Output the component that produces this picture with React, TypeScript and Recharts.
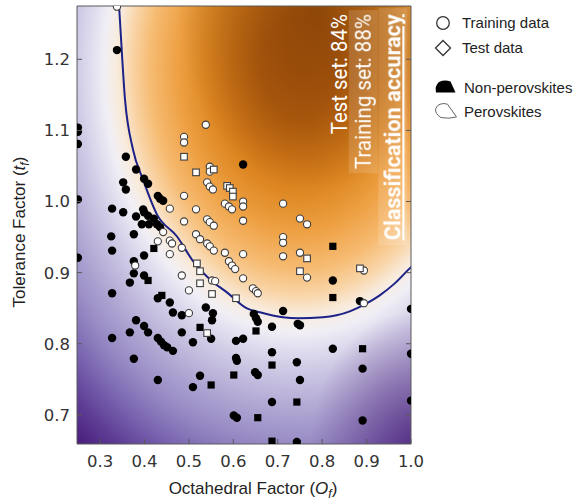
import React from 'react';
import {
  ComposedChart,
  Scatter,
  Line,
  XAxis,
  YAxis,
  ReferenceArea,
  ReferenceDot,
  Legend,
} from 'recharts';

type Pair = [number, number];
type Pt = { of: number; tf: number };

// Axis set-up
const xDomain: [number, number] = [0.248, 1.0];
const yDomain: [number, number] = [0.659, 1.275];
const xTicks = [0.3, 0.4, 0.5, 0.6, 0.7, 0.8, 0.9, 1.0];
const yTicks = [0.7, 0.8, 0.9, 1.0, 1.1, 1.2];

// [octahedral factor, tolerance factor]
const trainNonPerovskites: Pair[] = [
  [0.25, 1.104], [0.25, 1.098], [0.25, 1.081], [0.25, 1.003], [0.25, 0.921],
  [0.338, 1.213],
  [0.358, 1.063], [0.381, 1.045], [0.399, 1.032], [0.408, 1.025], [0.352, 1.027], [0.358, 1.017],
  [0.43, 1.008], [0.435, 1.004], [0.442, 1.001],
  [0.327, 0.99], [0.352, 0.985], [0.397, 0.989], [0.399, 0.985], [0.381, 0.979], [0.408, 0.98], [0.421, 0.976],
  [0.394, 0.968], [0.41, 0.968], [0.428, 0.968], [0.435, 0.964],
  [0.325, 0.951], [0.376, 0.954], [0.327, 0.931], [0.399, 0.924], [0.376, 0.916], [0.376, 0.899],
  [0.399, 0.896], [0.367, 0.886], [0.327, 0.871],
  [0.43, 0.864], [0.457, 0.858], [0.464, 0.844], [0.484, 0.84],
  [0.538, 0.851], [0.554, 0.843], [0.552, 0.833],
  [0.381, 0.833], [0.399, 0.825], [0.408, 0.816], [0.367, 0.816], [0.327, 0.808],
  [0.43, 0.808], [0.437, 0.803], [0.444, 0.798], [0.451, 0.795], [0.464, 0.79],
  [0.484, 0.816], [0.509, 0.802], [0.55, 0.807],
  [0.606, 0.804], [0.622, 0.807], [0.606, 0.78], [0.608, 0.776],
  [0.376, 0.779], [0.43, 0.749], [0.509, 0.739], [0.525, 0.755], [0.601, 0.699], [0.608, 0.696],
  [0.622, 1.052],
  [0.646, 0.842], [0.651, 0.836], [0.655, 0.831], [0.687, 0.824], [0.712, 0.846], [0.745, 0.828], [0.75, 0.826],
  [0.687, 0.788], [0.743, 0.774], [0.75, 0.749], [0.649, 0.76], [0.655, 0.756],
  [0.824, 0.889], [0.824, 0.793], [0.885, 0.86], [0.891, 0.765], [0.687, 0.718], [0.891, 0.692], [0.743, 0.662],
  [1.0, 0.849], [1.0, 0.786], [1.0, 0.72],
];

const testNonPerovskites: Pair[] = [
  [0.421, 0.934], [0.408, 0.889], [0.439, 0.868], [0.525, 0.823], [0.55, 0.742], [0.601, 0.756],
  [0.651, 0.818], [0.687, 0.77], [0.743, 0.718], [0.655, 0.696], [0.687, 0.663], [0.824, 0.937],
  [0.824, 0.865], [0.891, 0.793],
];

const trainPerovskites: Pair[] = [
  [0.338, 1.274],
  [0.538, 1.108], [0.489, 1.091], [0.489, 1.083],
  [0.547, 1.049], [0.547, 1.042],
  [0.541, 1.027], [0.547, 1.021], [0.554, 1.017],
  [0.489, 1.008], [0.457, 0.99], [0.516, 0.989],
  [0.581, 0.997], [0.59, 0.993], [0.597, 0.989],
  [0.622, 1.0], [0.622, 0.993],
  [0.541, 0.975], [0.547, 0.971], [0.556, 0.966], [0.622, 0.973],
  [0.712, 0.997], [0.75, 0.976], [0.766, 0.968],
  [0.489, 0.972], [0.442, 0.957], [0.516, 0.954], [0.525, 0.947], [0.43, 0.944], [0.457, 0.945],
  [0.462, 0.941], [0.484, 0.935],
  [0.541, 0.941], [0.547, 0.937], [0.556, 0.931],
  [0.712, 0.95], [0.712, 0.942],
  [0.457, 0.926], [0.581, 0.928], [0.59, 0.916], [0.597, 0.91], [0.604, 0.905], [0.622, 0.926],
  [0.712, 0.923], [0.75, 0.928], [0.766, 0.893],
  [0.379, 0.91], [0.484, 0.896], [0.552, 0.889], [0.559, 0.888], [0.622, 0.892],
  [0.644, 0.878], [0.651, 0.874], [0.655, 0.871],
  [0.5, 0.875], [0.5, 0.843],
  [0.894, 0.903], [0.894, 0.857],
];

const testPerovskites: Pair[] = [
  [0.489, 1.063], [0.516, 1.041], [0.556, 1.045],
  [0.586, 1.022], [0.592, 1.019], [0.599, 1.014], [0.599, 1.007],
  [0.518, 0.913], [0.525, 0.902], [0.525, 0.885],
  [0.552, 0.87], [0.606, 0.864], [0.541, 0.815],
  [0.766, 0.92], [0.75, 0.902], [0.885, 0.906],
];

// Classifier decision boundary
const boundary: Pair[] = [
  [0.34, 1.3], [0.3427, 1.2747], [0.3562, 1.1429], [0.3742, 1.0728], [0.3967, 1.0307],
  [0.4282, 0.9816], [0.4732, 0.9508], [0.5114, 0.9143], [0.5474, 0.8905], [0.5856, 0.8722],
  [0.6306, 0.8498], [0.6598, 0.8442], [0.7115, 0.8372], [0.7452, 0.8358], [0.8015, 0.8372],
  [0.8622, 0.8456], [0.8959, 0.8554], [0.9296, 0.8681], [0.9634, 0.8849], [0.9971, 0.906],
  [1.0196, 0.9186],
];

// Accuracy notes, with the x position of each rotated line's baseline
const accuracyNotes: { label: string; pct: number | null; of: number }[] = [
  { label: 'Test set', pct: 84, of: 0.8554 },
  { label: 'Training set', pct: 88, of: 0.9094 },
  { label: 'Classification accuracy', pct: null, of: 0.976 },
];
const noteTop = 1.2635;

const toPts = (rows: Pair[]): Pt[] => rows.map(([of, tf]) => ({ of, tf }));

const TICK_FONT = "'DejaVu Sans', sans-serif";
const LABEL_FONT = "'Liberation Sans', Arial, sans-serif";
const NOTE_FONT = "Roboto, 'Liberation Sans', sans-serif";
const FRAME = '#5a5a5a';

const BlackDot = (p: any) => <circle cx={p.cx} cy={p.cy} r={4.2} fill="#000" />;
const WhiteDot = (p: any) => (
  <circle cx={p.cx} cy={p.cy} r={3.6} fill="#fff" stroke="#3c3c3c" strokeWidth={1.1} />
);
const BlackSquare = (p: any) => <rect x={p.cx - 3.6} y={p.cy - 3.6} width={7.2} height={7.2} fill="#000" />;
const WhiteSquare = (p: any) => (
  <rect x={p.cx - 3.3} y={p.cy - 3.3} width={6.6} height={6.6} fill="#fff" stroke="#3c3c3c" strokeWidth={1.1} />
);

const BottomTick = (p: any) => (
  <g>
    <line x1={p.x} y1={p.y} x2={p.x} y2={p.y - 5} stroke={FRAME} strokeWidth={1} />
    <text x={p.x} y={p.y + 23} textAnchor="middle" fontSize={16.5} fill="#333" fontFamily={TICK_FONT}>
      {Number(p.payload.value).toFixed(1)}
    </text>
  </g>
);
const LeftTick = (p: any) => (
  <g>
    <line x1={p.x} y1={p.y} x2={p.x + 5} y2={p.y} stroke={FRAME} strokeWidth={1} />
    <text x={p.x - 7} y={p.y} dy="0.36em" textAnchor="end" fontSize={16.5} fill="#333" fontFamily={TICK_FONT}>
      {Number(p.payload.value).toFixed(1)}
    </text>
  </g>
);
const TopTick = (p: any) => <line x1={p.x} y1={p.y} x2={p.x} y2={p.y + 5} stroke={FRAME} strokeWidth={1} />;
const RightTick = (p: any) => <line x1={p.x} y1={p.y} x2={p.x - 5} y2={p.y} stroke={FRAME} strokeWidth={1} />;

const XTitle = (p: any) => {
  const vb = p.viewBox || {};
  return (
    <text x={vb.x + vb.width / 2 + 9} y={vb.y + 50} textAnchor="middle" fontSize={17} fill="#222" fontFamily={LABEL_FONT}>
      Octahedral Factor (<tspan fontStyle="italic">O</tspan>
      <tspan fontStyle="italic" fontSize={12} dy={4}>f</tspan>
      <tspan dy={-4}>)</tspan>
    </text>
  );
};
const YTitle = (p: any) => {
  const vb = p.viewBox || {};
  const cx = vb.x + 25;
  const cy = vb.y + vb.height / 2 + 7;
  return (
    <text
      transform={`translate(${cx},${cy}) rotate(-90)`}
      x={0}
      y={0}
      textAnchor="middle"
      fontSize={17}
      fill="#222"
      fontFamily={LABEL_FONT}
    >
      Tolerance Factor (<tspan fontStyle="italic">t</tspan>
      <tspan fontStyle="italic" fontSize={12} dy={4}>f</tspan>
      <tspan dy={-4}>)</tspan>
    </text>
  );
};

const makeNote = (text: string, bold: boolean, boxed: boolean, length: number) => (p: any) => (
  <g transform={`translate(${p.cx},${p.cy}) rotate(-90)`}>
    <text
      x={0}
      y={0}
      textAnchor="end"
      fontSize={22}
      fontWeight={bold ? 700 : 400}
      fill="#fff"
      fontFamily={NOTE_FONT}
      textLength={length}
      lengthAdjust="spacingAndGlyphs"
      filter={boxed ? 'url(#noteBg)' : undefined}
      style={bold ? { textDecoration: 'underline' } : undefined}
    >
      {text}
    </text>
  </g>
);

const noteLengths = [120, 155, 226];
const noteShapes = accuracyNotes.map((n, i) =>
  makeNote(n.pct === null ? n.label : `${n.label}: ${n.pct}%`, n.pct === null, i > 0, noteLengths[i]),
);

const LegendPanel = () => (
  <svg width={148} height={130} style={{ display: 'block', overflow: 'visible' }}>
    <g fontFamily={LABEL_FONT} fontSize={15} fill="#222">
      <circle cx={18} cy={23} r={6.3} fill="#fff" stroke="#333" strokeWidth={1.3} />
      <text x={37} y={28}>Training data</text>
      <path d="M18 40.5 L25.5 48 L18 55.5 L10.5 48 Z" fill="#fff" stroke="#333" strokeWidth={1.3} />
      <text x={37} y={53}>Test data</text>
      <path d="M11 92.5 L30.5 92.5 L25.5 81.5 Q19.5 79.5 14 82 Q9.5 86 11 92.5 Z" fill="#000" />
      <text x={39} y={93}>Non-perovskites</text>
      <path
        d="M15 104.2 Q19 102.8 22.5 104.2 L31.5 117 Q24 119 16 117.6 Q9.5 113.5 10.8 108.5 Q12 105.2 15 104.2 Z"
        fill="#fff"
        stroke="#666"
        strokeWidth={1}
      />
      <text x={39} y={117}>Perovskites</text>
    </g>
  </svg>
);

export default function App() {
  return (
    <div style={{ position: 'absolute', left: 0, top: 0, width: 573, height: 503, background: '#fff' }}>
      <ComposedChart width={573} height={503} margin={{ top: 0, right: 0, bottom: 0, left: 0 }}>
        <defs>
          <radialGradient
            id="fieldGrad"
            cx="0"
            cy="0"
            r="1"
            gradientTransform="translate(0.662 0.142) scale(1.106 1.146)"
          >
            <stop offset="0" stopColor="#b35c0e" />
            <stop offset="0.1" stopColor="#b8600f" />
            <stop offset="0.175" stopColor="#cc7316" />
            <stop offset="0.25" stopColor="#de8823" />
            <stop offset="0.325" stopColor="#eea043" />
            <stop offset="0.4" stopColor="#f6bb72" />
            <stop offset="0.45" stopColor="#f9d4a6" />
            <stop offset="0.49" stopColor="#f8ebdc" />
            <stop offset="0.525" stopColor="#f1eff5" />
            <stop offset="0.555" stopColor="#e3e0f0" />
            <stop offset="0.6" stopColor="#cfcae5" />
            <stop offset="0.675" stopColor="#b2a9d4" />
            <stop offset="0.75" stopColor="#978ac4" />
            <stop offset="0.82" stopColor="#7a65b0" />
            <stop offset="0.89" stopColor="#5e3d95" />
            <stop offset="0.95" stopColor="#4b207e" />
            <stop offset="1" stopColor="#3d0d6a" />
          </radialGradient>
          <radialGradient id="coreGrad" cx="0.72" cy="0" r="0.42">
            <stop offset="0" stopColor="#6e3303" stopOpacity={0.6} />
            <stop offset="0.6" stopColor="#6e3303" stopOpacity={0.25} />
            <stop offset="1" stopColor="#6e3303" stopOpacity={0} />
          </radialGradient>
          <radialGradient id="cornerGrad" cx="1" cy="1" r="0.3">
            <stop offset="0" stopColor="#3d0d6a" stopOpacity={0.6} />
            <stop offset="1" stopColor="#3d0d6a" stopOpacity={0} />
          </radialGradient>
          <filter id="noteBg" x="-0.02" y="-0.06" width="1.04" height="1.12">
            <feFlood floodColor="#ffffff" floodOpacity={0.14} result="bg" />
            <feMerge>
              <feMergeNode in="bg" />
              <feMergeNode in="SourceGraphic" />
            </feMerge>
          </filter>
        </defs>

        <XAxis
          type="number"
          dataKey="of"
          domain={xDomain}
          ticks={xTicks}
          interval={0}
          allowDataOverflow
          height={59}
          tickSize={0}
          tickMargin={0}
          tickLine={false}
          tick={<BottomTick />}
          axisLine={{ stroke: FRAME, strokeWidth: 1 }}
          label={<XTitle />}
        />
        <XAxis
          xAxisId="top"
          orientation="top"
          type="number"
          domain={xDomain}
          ticks={xTicks}
          interval={0}
          allowDataOverflow
          height={6}
          tickSize={0}
          tickMargin={0}
          tickLine={false}
          tick={<TopTick />}
          axisLine={{ stroke: FRAME, strokeWidth: 1 }}
        />
        <YAxis
          type="number"
          dataKey="tf"
          domain={yDomain}
          ticks={yTicks}
          interval={0}
          allowDataOverflow
          width={77}
          tickSize={0}
          tickMargin={0}
          tickLine={false}
          tick={<LeftTick />}
          axisLine={{ stroke: FRAME, strokeWidth: 1 }}
          label={<YTitle />}
        />
        <YAxis
          yAxisId="right"
          orientation="right"
          type="number"
          domain={yDomain}
          ticks={yTicks}
          interval={0}
          allowDataOverflow
          width={162}
          tickSize={0}
          tickMargin={0}
          tickLine={false}
          tick={<RightTick />}
          axisLine={{ stroke: FRAME, strokeWidth: 1 }}
        />

        <ReferenceArea x1={xDomain[0]} x2={xDomain[1]} y1={yDomain[0]} y2={yDomain[1]} fill="url(#fieldGrad)" fillOpacity={1} stroke="none" />
        <ReferenceArea x1={xDomain[0]} x2={xDomain[1]} y1={yDomain[0]} y2={yDomain[1]} fill="url(#coreGrad)" fillOpacity={1} stroke="none" />
        <ReferenceArea x1={xDomain[0]} x2={xDomain[1]} y1={yDomain[0]} y2={yDomain[1]} fill="url(#cornerGrad)" fillOpacity={1} stroke="none" />

        <Line
          data={toPts(boundary)}
          dataKey="tf"
          type="monotone"
          stroke="#1d2288"
          strokeWidth={2}
          dot={false}
          activeDot={false}
          isAnimationActive={false}
        />

        <Scatter name="Non-perovskites (training)" data={toPts(trainNonPerovskites)} dataKey="tf" shape={BlackDot} isAnimationActive={false} />
        <Scatter name="Non-perovskites (test)" data={toPts(testNonPerovskites)} dataKey="tf" shape={BlackSquare} isAnimationActive={false} />
        <Scatter name="Perovskites (training)" data={toPts(trainPerovskites)} dataKey="tf" shape={WhiteDot} isAnimationActive={false} />
        <Scatter name="Perovskites (test)" data={toPts(testPerovskites)} dataKey="tf" shape={WhiteSquare} isAnimationActive={false} />

        {accuracyNotes.map((n, i) => (
          <ReferenceDot key={n.label} x={n.of} y={noteTop} r={0} shape={noteShapes[i]} />
        ))}

        <Legend
          layout="horizontal"
          verticalAlign="middle"
          align="center"
          content={<LegendPanel />}
          wrapperStyle={{ left: 425, top: 0, width: 148, height: 130 }}
        />
      </ComposedChart>
    </div>
  );
}
